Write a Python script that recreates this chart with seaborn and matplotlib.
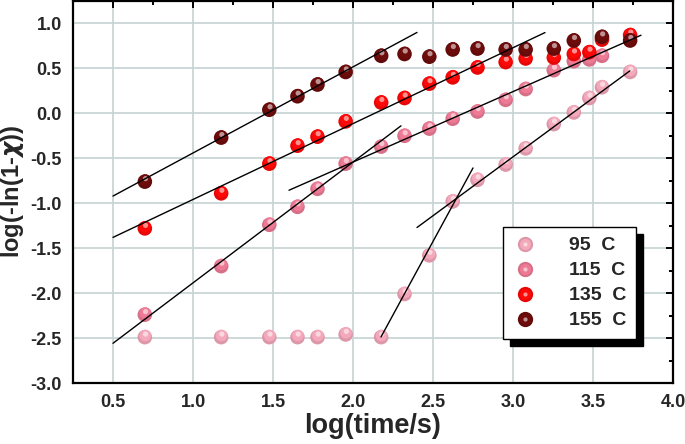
import numpy as np
import pandas as pd
import matplotlib
matplotlib.use("Agg")
import matplotlib.pyplot as plt
import seaborn as sns
from matplotlib.lines import Line2D
from matplotlib.legend_handler import HandlerTuple
from matplotlib.transforms import offset_copy

# data: log10 of time in s, log(-ln(1-chi))
temps = ["95  C", "115  C", "135  C", "155  C"]
colors = ["#F4A8BB", "#EE7B96", "#FF0808", "#6E0C0C"]

logt_95 = [0.699, 1.176, 1.477, 1.653, 1.778, 1.954, 2.176, 2.322, 2.477, 2.623,
           2.778, 2.954, 3.079, 3.255, 3.380, 3.477, 3.556, 3.732]
y_95 = [-2.49, -2.49, -2.49, -2.49, -2.49, -2.46, -2.49, -2.01, -1.58, -0.98,
        -0.74, -0.57, -0.39, -0.12, 0.01, 0.17, 0.29, 0.46]

logt_115 = [0.699, 1.176, 1.477, 1.653, 1.778, 1.954, 2.176, 2.322, 2.477, 2.623,
            2.778, 2.954, 3.079, 3.255, 3.380, 3.477, 3.556]
y_115 = [-2.24, -1.70, -1.24, -1.04, -0.84, -0.56, -0.37, -0.25, -0.17, -0.06,
         0.02, 0.15, 0.27, 0.48, 0.58, 0.60, 0.64]

logt_135 = [0.699, 1.176, 1.477, 1.653, 1.778, 1.954, 2.176, 2.322, 2.477, 2.623,
            2.778, 2.954, 3.079, 3.255, 3.380, 3.477, 3.556, 3.732]
y_135 = [-1.28, -0.89, -0.56, -0.36, -0.26, -0.09, 0.12, 0.17, 0.33, 0.40,
         0.51, 0.57, 0.61, 0.62, 0.66, 0.68, 0.82, 0.87]

logt_155 = [0.699, 1.176, 1.477, 1.653, 1.778, 1.954, 2.176, 2.322, 2.477, 2.623,
            2.778, 2.954, 3.079, 3.255, 3.380, 3.556, 3.732]
y_155 = [-0.76, -0.27, 0.04, 0.19, 0.32, 0.46, 0.64, 0.66, 0.63, 0.71,
         0.72, 0.71, 0.71, 0.72, 0.81, 0.85, 0.81]

# fitted straight lines: start x, end x, slope, intercept
fit_x0 = [0.5, 1.6, 0.5, 0.5, 2.175, 2.4]
fit_x1 = [2.4, 3.8, 3.2, 2.3, 2.75, 3.73]
fit_slope = [0.958, 0.784, 0.844, 1.344, 3.27, 1.31]
fit_icpt = [-1.399, -2.11, -1.802, -3.23, -9.60, -4.414]

frames = []
for t, xs, ys in zip(temps, [logt_95, logt_115, logt_135, logt_155],
                     [y_95, y_115, y_135, y_155]):
    frames.append(pd.DataFrame({"logt": xs, "val": ys, "temp": t}))
df = pd.concat(frames, ignore_index=True)

sns.set_style("white")
plt.rcParams["font.family"] = ["Liberation Sans", "DejaVu Sans"]
plt.rcParams["font.weight"] = "bold"
plt.rcParams["mathtext.default"] = "it"

fig = plt.figure(figsize=(6.85, 4.44), dpi=100)
ax = fig.add_axes([73 / 685, 1 - 383 / 444, 600 / 685, 382 / 444])

def shade(c, f):
    r = np.array(matplotlib.colors.to_rgb(c))
    return tuple(np.clip(r * f, 0, 1))

def lighten(c, f):
    r = np.array(matplotlib.colors.to_rgb(c))
    return tuple(r + (1 - r) * f)

hl_tr = offset_copy(ax.transData, fig=fig, x=0.3, y=1.2, units="points")
hl_tr2 = offset_copy(ax.transData, fig=fig, x=0.5, y=2.2, units="points")

for i, (t, c) in enumerate(zip(temps, colors)):
    sub = df[df.temp == t]
    sns.scatterplot(data=sub, x="logt", y="val", color=shade(c, 0.9), s=110,
                    edgecolor="none", ax=ax, legend=False, zorder=3 + i)
    ax.scatter(sub.logt, sub.val, s=70, color=c, edgecolor="none",
               transform=hl_tr, zorder=3 + i)
    ax.scatter(sub.logt, sub.val, s=14, color=lighten(c, 0.55), edgecolor="none",
               transform=hl_tr2, zorder=3 + i)

for x0, x1, m, b in zip(fit_x0, fit_x1, fit_slope, fit_icpt):
    xs = np.array([x0, x1])
    ax.plot(xs, m * xs + b, color="black", lw=1.0, zorder=10)

ax.set_xlim(0.25, 4.0)
ax.set_ylim(-3.0, 1.25)
ax.set_xticks(np.arange(0.5, 4.01, 0.5))
ax.set_yticks(np.arange(-3.0, 1.01, 0.5))
ax.set_xticks(np.arange(0.25, 4.01, 0.25), minor=True)
ax.set_yticks(np.arange(-2.75, 1.26, 0.25), minor=True)
ax.xaxis.set_major_formatter(matplotlib.ticker.FormatStrFormatter("%.1f"))
ax.yaxis.set_major_formatter(matplotlib.ticker.FormatStrFormatter("%.1f"))
ax.grid(True, which="major", color="#C9D5D5", lw=1.3, zorder=0)
ax.set_axisbelow(True)
ax.tick_params(which="both", direction="in", top=True, right=True,
               width=1.4, color="black")
ax.tick_params(which="major", length=5, labelsize=13, pad=8)
ax.tick_params(which="minor", length=3)
for lab in ax.get_xticklabels() + ax.get_yticklabels():
    lab.set_fontweight("bold")
for sp in ax.spines.values():
    sp.set_linewidth(1.6)
    sp.set_color("black")

ax.set_xlabel("log(time/s)", fontsize=19.5, fontweight="bold", labelpad=1)
ax.set_ylabel(r"log(-ln(1-$\chi$))", fontsize=17, fontweight="bold", labelpad=3)

handles = []
for c in colors:
    base = Line2D([], [], ls="none", marker="o", ms=11, mfc=shade(c, 0.9), mec="none")
    top = Line2D([], [], ls="none", marker="o", ms=8, mfc=c, mec="none")
    dot = Line2D([], [], ls="none", marker="o", ms=3, mfc=lighten(c, 0.55), mec="none")
    handles.append((base, top, dot))
leg = ax.legend(handles, temps, handler_map={tuple: HandlerTuple(ndivide=1, pad=0)},
                loc="upper right", bbox_to_anchor=(0.938, 0.408),
                prop={"size": 14, "weight": "bold"}, frameon=True, fancybox=False,
                edgecolor="black", framealpha=1, borderpad=0.5, labelspacing=0.38,
                handlelength=1.3, handletextpad=1.6, borderaxespad=0,
                shadow={"ox": 5, "oy": -5, "facecolor": "black", "edgecolor": "black", "alpha": 1})
leg.get_frame().set_linewidth(1.0)
leg.set_zorder(20)

fig.savefig("out.png", dpi=100)
